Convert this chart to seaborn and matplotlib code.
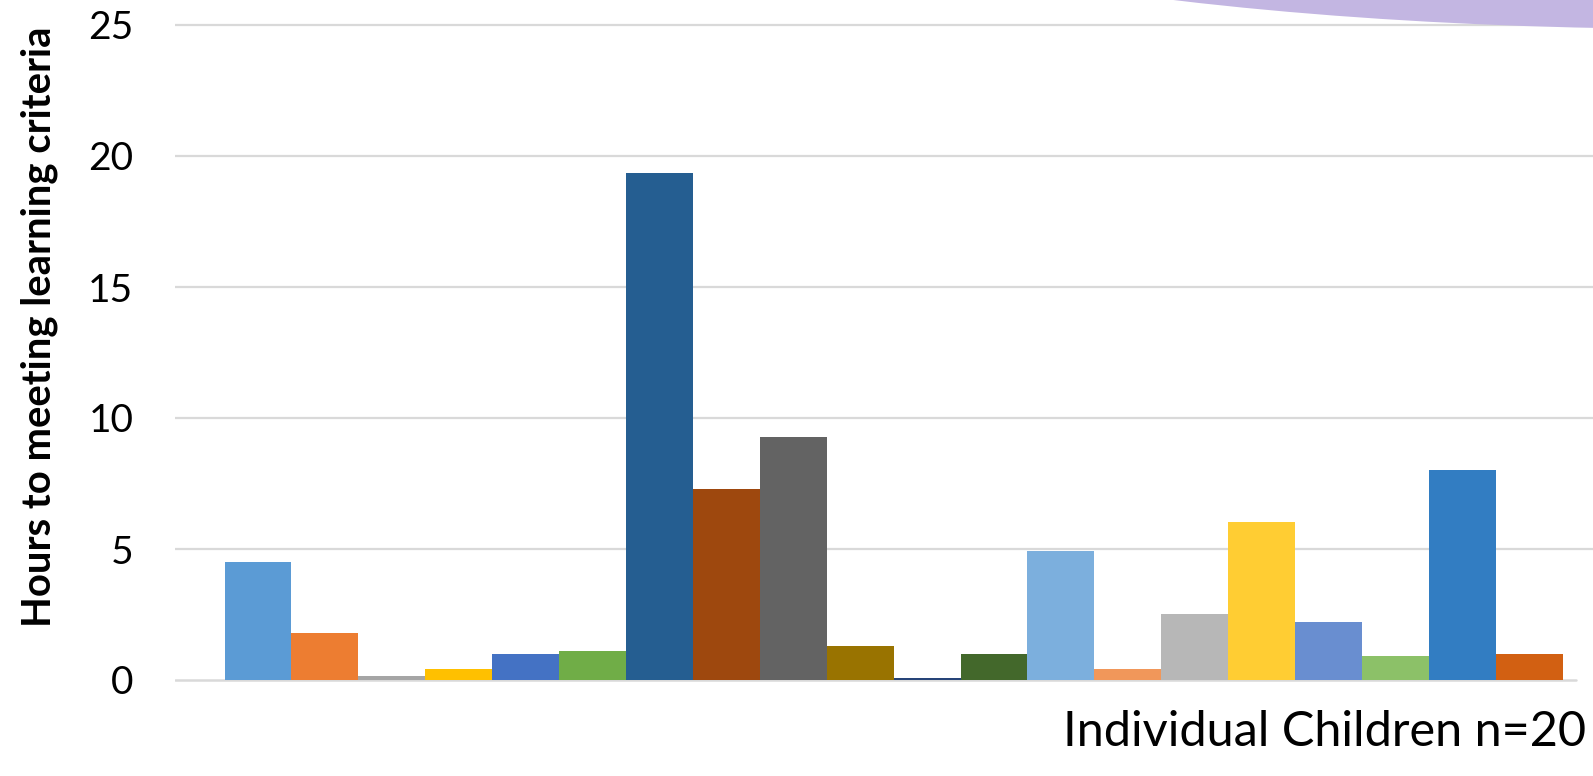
import matplotlib
matplotlib.use("Agg")
import matplotlib.pyplot as plt
from matplotlib.patches import Ellipse
import seaborn as sns
import pandas as pd

# ---- data ----
children = [f"Child {i}" for i in range(1, 21)]
hours = [4.5, 1.8, 0.15, 0.42, 1.0, 1.1, 19.35, 7.3, 9.28, 1.3,
         0.08, 1.0, 4.92, 0.42, 2.52, 6.03, 2.21, 0.92, 8.0, 1.0]
bar_colors = ["#5B9BD5", "#ED7D31", "#A5A5A5", "#FFC000", "#4472C4",
              "#70AD47", "#255E91", "#9E480E", "#636363", "#997300",
              "#264478", "#43682B", "#7CAFDD", "#F1975A", "#B7B7B7",
              "#FFCD33", "#698ED0", "#8CC168", "#327DC2", "#D26012"]
y_ticks = [0, 5, 10, 15, 20, 25]
y_label = "Hours to meeting learning criteria"
x_label = "Individual Children n=20"

df = pd.DataFrame({"child": children, "hours": hours})

sns.set_theme(style="white")
plt.rcParams["font.family"] = ["Lato", "DejaVu Sans"]

W, H = 1593, 776
fig = plt.figure(figsize=(W / 100, H / 100), dpi=100)

# decorative purple shape at the top right
fig.patches.append(Ellipse((1700 / W, 1 - (-171) / H), 2 * 1016 / W, 2 * 200 / H,
                           transform=fig.transFigure, facecolor="#C3B6E2",
                           edgecolor="none", zorder=0))

ax_left = 175 / W
ax_bottom = 1 - 693.1 / H
ax_h = (693.1 - 11.9) / H
ax = fig.add_axes([ax_left, ax_bottom, 1 - ax_left, ax_h])
ax.set_facecolor("none")

sns.barplot(data=df, x="child", y="hours", hue="child", palette=bar_colors,
            width=1.0, saturation=1, legend=False, ax=ax, zorder=3,
            linewidth=0, edgecolor="none")

ax.set_xlim(-1.241, 19.954)
ax.set_ylim(-0.5, 25.5)
ax.set_yticks(y_ticks)
ax.set_yticklabels([str(t) for t in y_ticks], fontsize=28)
ax.set_xticks([])
ax.set_xlabel("")
ax.set_ylabel("")
ax.tick_params(axis="y", length=0, pad=30, labelcolor="#000000")
for s in ax.spines.values():
    s.set_visible(False)
for t in y_ticks[1:]:
    ax.axhline(t, color="#D9D9D9", lw=1.6, zorder=1)
ax.axhline(0, xmin=0, xmax=(19.7 + 1.241) / (19.954 + 1.241), color="#D9D9D9", lw=1.8, zorder=2)

fig.text(39 / W, 1 - 327 / H, y_label, rotation=90, ha="center", va="center",
         fontsize=28.8, fontweight="bold", color="#000000")
fig.text(1586 / W, 1 - 746 / H, x_label, ha="right", va="baseline",
         fontsize=35, color="#000000")

fig.savefig("out.png", dpi=100)
